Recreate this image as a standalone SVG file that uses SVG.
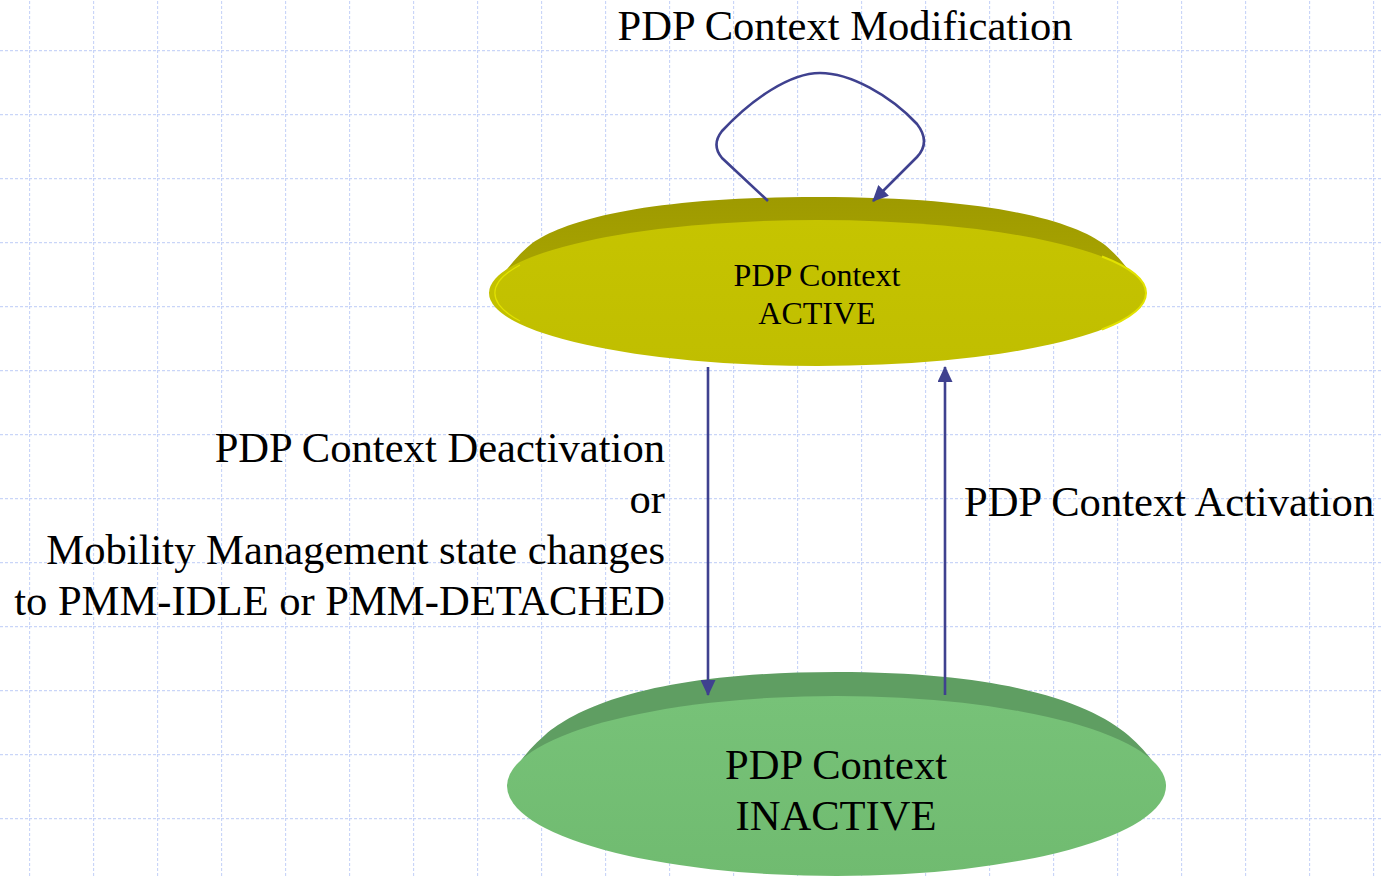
<svg xmlns="http://www.w3.org/2000/svg" width="1382" height="878" viewBox="0 0 1382 878">
<style>
.lbl{font-family:"Liberation Serif","Times New Roman",serif;fill:#000;}
.big{font-size:42.6px;}
.mid{font-size:32px;}
.conn{fill:none;stroke:#3f418f;stroke-width:2.6;}
.grid{stroke:#c9d5f8;stroke-width:1.3;stroke-dasharray:3 2;fill:none;}
.rimy{fill:none;stroke:#e2e200;stroke-width:2;}
</style>
<defs>
<pattern id="gp" patternUnits="userSpaceOnUse" x="29" y="50" width="64" height="64">
<line class="grid" x1="0.5" y1="0" x2="0.5" y2="64"/>
<line class="grid" x1="0" y1="0.5" x2="64" y2="0.5"/>
</pattern>
<marker id="ah" markerWidth="16" markerHeight="15" refX="15" refY="7.5" orient="auto" markerUnits="userSpaceOnUse">
<path d="M0,0 L16,7.5 L0,15 Z" fill="#3f418f"/>
</marker>
<linearGradient id="yfront" x1="0" y1="0" x2="0" y2="1">
<stop offset="0" stop-color="#c6c400"/>
<stop offset="1" stop-color="#c0be00"/>
</linearGradient>
<linearGradient id="ylid" x1="0" y1="0" x2="0" y2="1">
<stop offset="0" stop-color="#9e9a00"/>
<stop offset="1" stop-color="#aaa600"/>
</linearGradient>
<linearGradient id="gfront" x1="0" y1="0" x2="0" y2="1">
<stop offset="0" stop-color="#77c278"/>
<stop offset="1" stop-color="#70bb70"/>
</linearGradient>
</defs>
<rect x="0" y="0" width="1382" height="878" fill="#ffffff"/>
<rect x="0" y="0" width="1382" height="878" fill="url(#gp)"/>

<g id="node-active">
<path d="M489,293 C500,278 515,257 530,245 C560,222 640,197 817.5,197 C995,197 1075,222 1105,245 C1120,257 1135,278 1146,293 Z" fill="url(#ylid)"/>
<ellipse cx="817.5" cy="293" rx="328.5" ry="73" fill="url(#yfront)"/>
<path class="rimy" d="M1102,256.5 A328.5,73 0 0 1 1102,329.5"/>
<path class="rimy" style="stroke-width:1.2" d="M520,265 A328.5,73 0 0 0 520,321"/>
<text class="lbl mid" x="817" y="286" text-anchor="middle">PDP Context</text>
<text class="lbl mid" x="817" y="324" text-anchor="middle">ACTIVE</text>
</g>

<g id="node-inactive">
<path d="M507,786 C513,770 525,752 545,735 C580,705 660,672 836.5,672 C1013,672 1093,705 1128,735 C1148,752 1160,770 1166,786 Z" fill="#5f9e62"/>
<ellipse cx="836.5" cy="786" rx="329.5" ry="90" fill="url(#gfront)"/>
<text class="lbl big" x="836" y="779" text-anchor="middle">PDP Context</text>
<text class="lbl big" x="836" y="830" text-anchor="middle">INACTIVE</text>
</g>

<g id="connectors">
<path class="conn" d="M768,201 L722,158 Q711,145 722,131 C752,99 790,73 820,73 C850,73 890,95 917,124 Q931,142 917,157 L873,201" marker-end="url(#ah)"/>
<line class="conn" x1="708" y1="367" x2="708" y2="695" marker-end="url(#ah)"/>
<line class="conn" x1="945" y1="695" x2="945" y2="367" marker-end="url(#ah)"/>
</g>

<g id="labels">
<text class="lbl big" x="845" y="40" text-anchor="middle">PDP Context Modification</text>
<text class="lbl big" x="665" y="462" text-anchor="end">PDP Context Deactivation</text>
<text class="lbl big" x="665" y="513" text-anchor="end">or</text>
<text class="lbl big" x="665" y="564" text-anchor="end">Mobility Management state changes</text>
<text class="lbl big" x="665" y="615" text-anchor="end">to PMM-IDLE or PMM-DETACHED</text>
<text class="lbl big" x="964" y="516">PDP Context Activation</text>
</g>
</svg>
